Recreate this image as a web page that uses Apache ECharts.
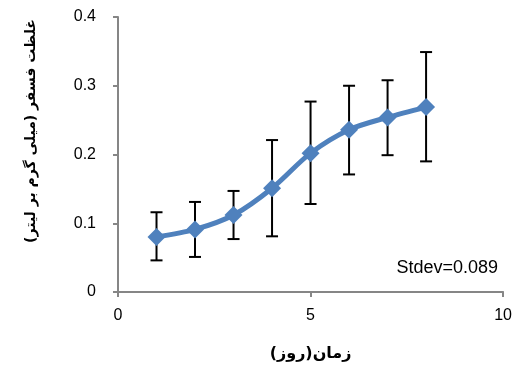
<!DOCTYPE html>
<html><head><meta charset="utf-8">
<script src="https://cdn.jsdelivr.net/npm/echarts@6/dist/echarts.min.js"></script>
<style>html,body{margin:0;padding:0;background:#fff}#c{width:515px;height:372px}</style>
</head><body><div id="c"></div>
<script>
const days = [1, 2, 3, 4, 5, 6, 7, 8];
const means = [0.080, 0.091, 0.112, 0.151, 0.202, 0.236, 0.254, 0.269];
const upper = [0.116, 0.131, 0.147, 0.221, 0.277, 0.300, 0.308, 0.349];
const lower = [0.046, 0.051, 0.077, 0.081, 0.128, 0.171, 0.199, 0.190];
const xTicks = [0, 5, 10];
const yTicks = [0, 0.1, 0.2, 0.3, 0.4];
const xTitle = 'زمان(روز)';
const yTitle = 'غلظت فسفر (میلی گرم بر لیتر)';
const note = 'Stdev=0.089';

const chart = echarts.init(document.getElementById('c'));
const axisCol = '#868686';
chart.setOption({
  animation: false,
  grid: {left: 118, right: 10, top: 17, bottom: 80},
  xAxis: {
    type: 'value', min: xTicks[0], max: xTicks[xTicks.length-1], interval: 5,
    splitLine: {show: false},
    axisLine: {lineStyle: {color: axisCol, width: 2}},
    axisTick: {show: true, length: 5, lineStyle: {color: axisCol, width: 2}},
    axisLabel: {color: '#000', fontSize: 16, fontFamily: 'Liberation Sans', margin: 16},
    name: xTitle, nameLocation: 'middle', nameGap: 54,
    nameTextStyle: {color: '#000', fontSize: 16, fontWeight: 'bold', fontFamily: 'DejaVu Sans'}
  },
  yAxis: {
    type: 'value', min: yTicks[0], max: yTicks[yTicks.length-1], interval: 0.1,
    splitLine: {show: false},
    axisLine: {show: true, lineStyle: {color: axisCol, width: 2}},
    axisTick: {show: true, length: 5, lineStyle: {color: axisCol, width: 2}},
    axisLabel: {color: '#000', fontSize: 16, fontFamily: 'Liberation Sans', margin: 22}
  },
  series: [
    {
      type: 'custom',
      data: days.map((d, i) => [d, lower[i], upper[i]]),
      z: 3,
      renderItem: function (params, api) {
        const x = api.value(0);
        const lo = api.coord([x, api.value(1)]);
        const hi = api.coord([x, api.value(2)]);
        const w = 6;
        const st = {stroke: '#000', lineWidth: 2};
        return {type: 'group', children: [
          {type: 'line', shape: {x1: lo[0], y1: lo[1], x2: hi[0], y2: hi[1]}, style: st},
          {type: 'line', shape: {x1: lo[0]-w, y1: lo[1], x2: lo[0]+w, y2: lo[1]}, style: st},
          {type: 'line', shape: {x1: hi[0]-w, y1: hi[1], x2: hi[0]+w, y2: hi[1]}, style: st}
        ]};
      }
    },
    {
      type: 'line', z: 4,
      data: days.map((d, i) => [d, means[i]]),
      smooth: 0.3,
      lineStyle: {color: '#4F81BD', width: 5},
      itemStyle: {color: '#4F81BD'},
      symbol: 'diamond', symbolSize: 18
    }
  ],
  graphic: [
    {
      type: 'text', right: 17, top: 259,
      style: {text: note, fontSize: 18, fontFamily: 'Liberation Sans', fill: '#000'}
    },
    {
      type: 'text', x: 31, y: 131, rotation: Math.PI / 2,
      style: {text: yTitle, fontSize: 14, fontWeight: 'bold', fontFamily: 'DejaVu Sans', fill: '#000',
              align: 'center', verticalAlign: 'middle'}
    }
  ]
});
</script></body></html>
